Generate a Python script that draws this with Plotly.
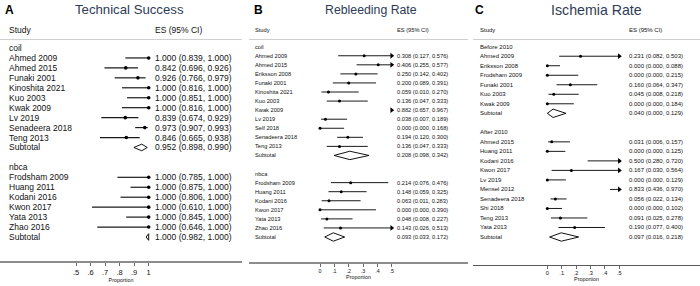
import plotly.graph_objects as go

W, H = 700, 286

# ---------------- Panel A: Technical Success ----------------
A_coil_studies = ["Ahmed 2009", "Ahmed 2015", "Funaki 2001", "Kinoshita 2021", "Kuo 2003",
                  "Kwak 2009", "Lv 2019", "Senadeera 2018", "Teng 2013"]
A_coil_es = [1.000, 0.842, 0.926, 1.000, 1.000, 1.000, 0.839, 0.973, 0.846]
A_coil_lo = [0.839, 0.696, 0.766, 0.816, 0.851, 0.816, 0.674, 0.907, 0.665]
A_coil_hi = [1.000, 0.926, 0.979, 1.000, 1.000, 1.000, 0.929, 0.993, 0.938]
A_coil_sub = [0.952, 0.898, 0.990]

A_nbca_studies = ["Frodsham 2009", "Huang 2011", "Kodani 2016", "Kwon 2017", "Yata 2013", "Zhao 2016"]
A_nbca_es = [1.000, 1.000, 1.000, 1.000, 1.000, 1.000]
A_nbca_lo = [0.785, 0.875, 0.806, 0.610, 0.845, 0.646]
A_nbca_hi = [1.000, 1.000, 1.000, 1.000, 1.000, 1.000]
A_nbca_sub = [1.000, 0.982, 1.000]

# ---------------- Panel B: Rebleeding Rate ----------------
B_coil_studies = ["Ahmed 2009", "Ahmed 2015", "Eriksson 2008", "Funaki 2001", "Kinoshita 2021",
                  "Kuo 2003", "Kwak 2009", "Lv 2019", "Self 2018", "Senadeera 2018", "Teng 2013"]
B_coil_es = [0.308, 0.406, 0.250, 0.200, 0.059, 0.136, 0.882, 0.038, 0.000, 0.194, 0.136]
B_coil_lo = [0.127, 0.255, 0.142, 0.089, 0.010, 0.047, 0.657, 0.007, 0.000, 0.120, 0.047]
B_coil_hi = [0.576, 0.577, 0.402, 0.391, 0.270, 0.333, 0.967, 0.189, 0.168, 0.300, 0.333]
B_coil_sub = [0.208, 0.098, 0.342]

B_nbca_studies = ["Frodsham 2009", "Huang 2011", "Kodani 2016", "Kwon 2017", "Yata 2013", "Zhao 2016"]
B_nbca_es = [0.214, 0.148, 0.063, 0.000, 0.048, 0.143]
B_nbca_lo = [0.076, 0.059, 0.011, 0.000, 0.008, 0.026]
B_nbca_hi = [0.476, 0.325, 0.283, 0.390, 0.227, 0.513]
B_nbca_sub = [0.093, 0.033, 0.172]

# ---------------- Panel C: Ischemia Rate ----------------
C_before_studies = ["Ahmed 2009", "Eriksson 2008", "Frodsham 2009", "Funaki 2001", "Kuo 2003", "Kwak 2009"]
C_before_es = [0.231, 0.000, 0.000, 0.160, 0.045, 0.000]
C_before_lo = [0.082, 0.000, 0.000, 0.064, 0.008, 0.000]
C_before_hi = [0.503, 0.088, 0.215, 0.347, 0.218, 0.184]
C_before_sub = [0.040, 0.000, 0.129]

C_after_studies = ["Ahmed 2015", "Huang 2011", "Kodani 2016", "Kwon 2017", "Lv 2019", "Mensel 2012",
                   "Senadeera 2018", "Shi 2018", "Teng 2013", "Yata 2013"]
C_after_es = [0.031, 0.000, 0.500, 0.167, 0.000, 0.833, 0.056, 0.000, 0.091, 0.190]
C_after_lo = [0.006, 0.000, 0.280, 0.030, 0.000, 0.436, 0.022, 0.000, 0.025, 0.077]
C_after_hi = [0.157, 0.125, 0.720, 0.564, 0.129, 0.970, 0.134, 0.102, 0.278, 0.400]
C_after_sub = [0.097, 0.016, 0.218]

A_ticks = [0.5, 0.6, 0.7, 0.8, 0.9, 1.0]
A_ticktext = [".5", ".6", ".7", ".8", ".9", "1"]
BC_ticks = [0, 0.1, 0.2, 0.3, 0.4, 0.5]
BC_ticktext = ["0", ".1", ".2", ".3", ".4", ".5"]

FONT = "Liberation Sans, Arial, sans-serif"
TXT = "#111111"
TITLE_C = "#2e3b56"

panels = [
    dict(letter="A", title="Technical Success", title_size=13.2, title_cx=129,
         groups=[("coil", A_coil_studies, A_coil_es, A_coil_lo, A_coil_hi, A_coil_sub),
                 ("nbca", A_nbca_studies, A_nbca_es, A_nbca_lo, A_nbca_hi, A_nbca_sub)],
         dom=(0, 242), x_at=(0.5, 76.0), x_at2=(1.0, 148.7), clip=None,
         label_px=7, es_px=153, fs=8.5, row0=48.0, row_last=237.0,
         axis_px=261, axis_col="#8c8c8c", axis_w=1.6, tick_fs=7.5,
         ticks=A_ticks, ticktext=A_ticktext, dh=3.3, dot=3.6, lw=1.2,
         letter_px=3),
    dict(letter="B", title="Rebleeding Rate", title_size=12.3, title_cx=371,
         groups=[("coil", B_coil_studies, B_coil_es, B_coil_lo, B_coil_hi, B_coil_sub),
                 ("nbca", B_nbca_studies, B_nbca_es, B_nbca_lo, B_nbca_hi, B_nbca_sub)],
         dom=(249, 468), x_at=(0.0, 320.0), x_at2=(0.5, 391.7), clip=0.5,
         label_px=253, es_px=395.5, fs=5.7, row0=46.7, row_last=237.0,
         axis_px=262.3, axis_col="#8c8c8c", axis_w=1.4, tick_fs=5.3,
         ticks=BC_ticks, ticktext=BC_ticktext, dh=4.2, dot=3.0, lw=1.0,
         letter_px=252),
    dict(letter="C", title="Ischemia Rate", title_size=14.2, title_cx=596,
         groups=[("Before 2010", C_before_studies, C_before_es, C_before_lo, C_before_hi, C_before_sub),
                 ("After 2010", C_after_studies, C_after_es, C_after_lo, C_after_hi, C_after_sub)],
         dom=(473, 700), x_at=(0.0, 547.3), x_at2=(0.5, 619.3), clip=0.5,
         label_px=478, es_px=627, fs=6.0, row0=46.7, row_last=237.0,
         axis_px=264.5, axis_col="#5a5a5a", axis_w=1.2, tick_fs=5.6,
         ticks=BC_ticks, ticktext=BC_ticktext, dh=4.2, dot=3.0, lw=1.0,
         letter_px=473),
]

fig = go.Figure()
annotations = []
shapes = []
layout_axes = {}


def fmt(es, lo, hi):
    return f"{es:.3f} ({lo:.3f}, {hi:.3f})"


for i, p in enumerate(panels):
    sfx = "" if i == 0 else str(i + 1)
    xa, ya = "x" + sfx, "y" + sfx

    rows = []
    for gi, (gname, studies, es, lo, hi, sub) in enumerate(p["groups"]):
        rows.append(("group", gname, None))
        for s, e, l, h in zip(studies, es, lo, hi):
            rows.append(("study", s, (e, l, h)))
        rows.append(("sub", "Subtotal", tuple(sub)))
        if gi < len(p["groups"]) - 1:
            rows.append(("blank", "", None))
    n = len(rows)
    spacing = (p["row_last"] - p["row0"]) / (n - 1)
    r_top = -p["row0"] / spacing
    r_bot = (H - p["row0"]) / spacing

    (v1, px1), (v2, px2) = p["x_at"], p["x_at2"]
    k = (px2 - px1) / (v2 - v1)
    d0, d1 = p["dom"]
    xr = [v1 - (px1 - d0) / k, v1 + (d1 - px1) / k]

    layout_axes["xaxis" + sfx] = dict(
        domain=[d0 / W, d1 / W], range=xr, anchor="free", position=(H - p["axis_px"]) / H,
        showline=True, linecolor=p["axis_col"], linewidth=p["axis_w"],
        ticks="outside", ticklen=3, tickwidth=0.8, tickcolor="#444",
        tickvals=p["ticks"], ticktext=p["ticktext"],
        tickfont=dict(size=p["tick_fs"], family=FONT, color=TXT),
        showgrid=False, zeroline=False, fixedrange=True,
        title=dict(text="Proportion", font=dict(size=5.4, family=FONT, color=TXT), standoff=1),
    )
    layout_axes["yaxis" + sfx] = dict(
        domain=[0, 1], range=[r_bot, r_top], visible=False, anchor=xa, fixedrange=True,
    )

    clip = p["clip"]
    lx, ly, dx, dy, ax_, ay_ = [], [], [], [], [], []
    for r, (kind, name, vals) in enumerate(rows):
        if kind == "blank":
            continue
        annotations.append(dict(x=p["label_px"] / W, y=r, xref="paper", yref=ya, text=name,
                                showarrow=False, xanchor="left", yanchor="middle",
                                font=dict(size=p["fs"], family=FONT, color=TXT)))
        if vals is None:
            continue
        e, l, h = vals
        annotations.append(dict(x=p["es_px"] / W, y=r, xref="paper", yref=ya, text=fmt(e, l, h),
                                showarrow=False, xanchor="left", yanchor="middle",
                                font=dict(size=p["fs"], family=FONT, color=TXT)))
        if kind == "study":
            hi_draw = h if clip is None else min(h, clip)
            if clip is None or l < clip:
                lx += [l, hi_draw, None]
                ly += [r, r, None]
            if clip is None or e <= clip:
                dx.append(e)
                dy.append(r)
            if clip is not None and h > clip:
                ax_.append(clip)
                ay_.append(r)
        else:
            dh = p["dh"] / spacing
            fig.add_trace(go.Scatter(x=[l, e, h, e, l], y=[r, r - dh, r, r + dh, r],
                                     mode="lines", fill="toself", fillcolor="white",
                                     line=dict(color="#111", width=1), xaxis=xa, yaxis=ya,
                                     hoverinfo="skip"))
    fig.add_trace(go.Scatter(x=lx, y=ly, mode="lines", line=dict(color="#1a1a1a", width=p["lw"]),
                             xaxis=xa, yaxis=ya, hoverinfo="skip"))
    fig.add_trace(go.Scatter(x=dx, y=dy, mode="markers",
                             marker=dict(color="#000", size=p["dot"], line=dict(width=0)),
                             xaxis=xa, yaxis=ya, hoverinfo="skip"))
    if ax_:
        fig.add_trace(go.Scatter(x=ax_, y=ay_, mode="markers",
                                 marker=dict(color="#000", size=5, symbol="triangle-right",
                                             line=dict(width=0)),
                                 xaxis=xa, yaxis=ya, hoverinfo="skip"))

    annotations.append(dict(x=p["label_px"] / W, y=1 - 29.7 / H, xref="paper", yref="paper",
                            text="Study", showarrow=False, xanchor="left", yanchor="middle",
                            font=dict(size=p["fs"], family=FONT, color=TXT)))
    annotations.append(dict(x=p["es_px"] / W, y=1 - 29.7 / H, xref="paper", yref="paper",
                            text="ES (95% CI)", showarrow=False, xanchor="left", yanchor="middle",
                            font=dict(size=p["fs"], family=FONT, color=TXT)))
    shapes.append(dict(type="line", xref="paper", yref="paper", x0=d0 / W, x1=d1 / W,
                       y0=1 - 39.5 / H, y1=1 - 39.5 / H, line=dict(color="#cfcfcf", width=1)))
    annotations.append(dict(x=p["letter_px"] / W, y=1 - 9.5 / H, xref="paper", yref="paper",
                            text="<b>" + p["letter"] + "</b>", showarrow=False,
                            xanchor="left", yanchor="middle",
                            font=dict(size=12, family=FONT, color="#000")))
    annotations.append(dict(x=p["title_cx"] / W, y=1 - 9.5 / H, xref="paper", yref="paper",
                            text=p["title"], showarrow=False, xanchor="center", yanchor="middle",
                            font=dict(size=p["title_size"], family=FONT, color=TITLE_C)))

fig.update_layout(
    width=W, height=H, autosize=False, margin=dict(l=0, r=0, t=0, b=0),
    paper_bgcolor="white", plot_bgcolor="white", showlegend=False,
    annotations=annotations, shapes=shapes, **layout_axes,
)

fig.write_html("out.html", config={"displayModeBar": False, "staticPlot": True},
               post_script="document.body.style.margin='0';document.body.style.overflow='hidden';")
